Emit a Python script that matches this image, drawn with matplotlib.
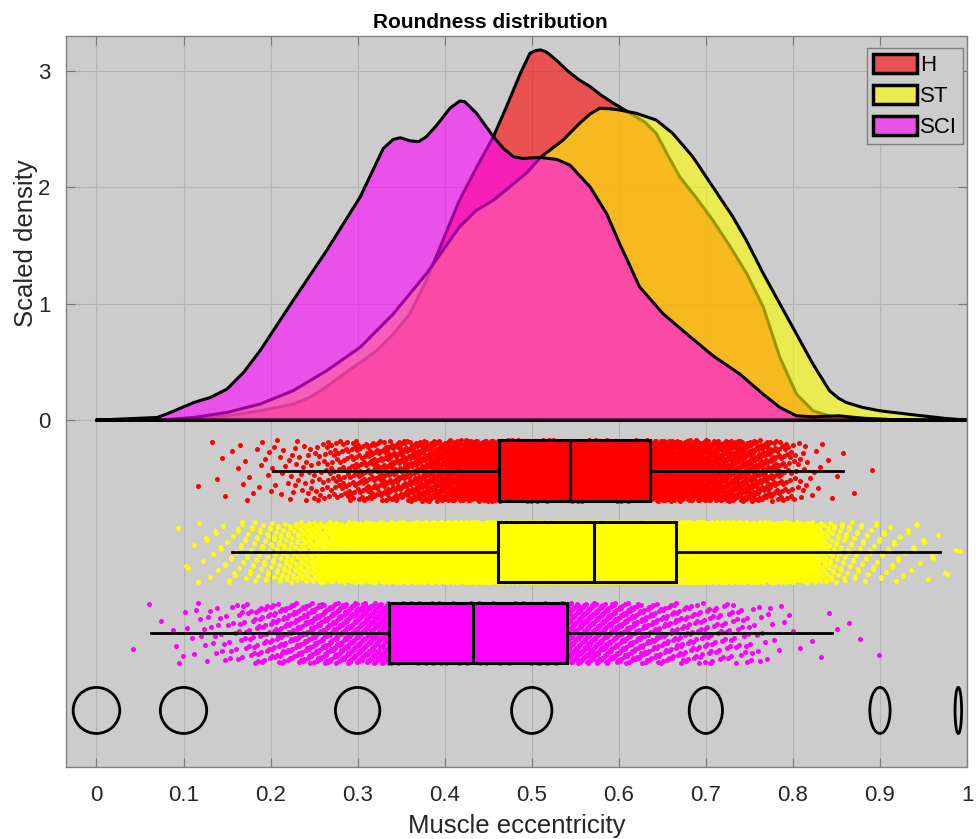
import numpy as np
import matplotlib
matplotlib.use("Agg")
import matplotlib.pyplot as plt
from matplotlib.patches import Ellipse, Patch

plt.rcParams['font.family'] = ['Liberation Sans', 'DejaVu Sans']

# ---------------- data ----------------
groups = ["H", "ST", "SCI"]
fill_colors = [(1.0, 0.0, 0.0), (1.0, 1.0, 0.0), (1.0, 0.0, 1.0)]

# scaled density curves
H_x = [0.0, 0.07, 0.112, 0.150, 0.188, 0.226, 0.245, 0.265, 0.284, 0.303, 0.322, 0.341,
       0.360, 0.379, 0.398, 0.417, 0.437, 0.456, 0.471, 0.487, 0.498, 0.505, 0.510, 0.516,
       0.521, 0.530, 0.540, 0.553, 0.567, 0.580, 0.594, 0.613, 0.630, 0.643, 0.656, 0.670,
       0.690, 0.708, 0.728, 0.747, 0.766, 0.785, 0.804, 0.823, 0.842, 0.861, 0.900, 1.0]
H_y = [0.0, 0.0, 0.011, 0.037, 0.080, 0.138, 0.195, 0.290, 0.396, 0.495, 0.597, 0.740,
       0.913, 1.20, 1.545, 1.889, 2.176, 2.435, 2.693, 2.98, 3.152, 3.175, 3.181, 3.165,
       3.138, 3.080, 3.009, 2.930, 2.865, 2.790, 2.722, 2.636, 2.560, 2.463, 2.280, 2.09,
       1.900, 1.717, 1.490, 1.258, 0.970, 0.54, 0.224, 0.080, 0.035, 0.014, 0.0, 0.0]

ST_x = [0.0, 0.073, 0.112, 0.150, 0.188, 0.226, 0.2645, 0.303, 0.341, 0.379, 0.417, 0.4365,
        0.456, 0.479, 0.495, 0.510, 0.536, 0.555, 0.567, 0.578, 0.590, 0.601, 0.620, 0.643,
        0.662, 0.685, 0.708, 0.731, 0.7465, 0.766, 0.785, 0.804, 0.823, 0.842, 0.852, 0.861,
        0.880, 0.900, 0.938, 0.976, 1.0]
ST_y = [0.0, 0.0, 0.023, 0.066, 0.138, 0.253, 0.425, 0.626, 0.913, 1.258, 1.66, 1.803,
        1.889, 2.03, 2.130, 2.257, 2.406, 2.55, 2.630, 2.679, 2.675, 2.664, 2.636, 2.578,
        2.463, 2.262, 2.004, 1.746, 1.545, 1.258, 0.999, 0.741, 0.482, 0.253, 0.190, 0.152,
        0.109, 0.080, 0.046, 0.014, 0.0]

SCI_x = [0.0, 0.07, 0.085, 0.112, 0.131, 0.150, 0.169, 0.188, 0.226, 0.2645,
         0.303, 0.3295, 0.341, 0.349, 0.360, 0.370, 0.379, 0.391, 0.406, 0.4174,
         0.423, 0.4365, 0.456, 0.4675, 0.479, 0.490, 0.5096, 0.5287, 0.544, 0.567,
         0.586, 0.601, 0.624, 0.651, 0.678, 0.708, 0.739, 0.7656, 0.785, 0.804,
         0.823, 0.853, 0.880, 0.918, 0.9375, 1.0]
SCI_y = [0.0, 0.023, 0.066, 0.152, 0.195, 0.267, 0.41, 0.597, 1.028, 1.458,
         1.918, 2.334, 2.412, 2.426, 2.40, 2.392, 2.435, 2.535, 2.679, 2.742,
         2.736, 2.636, 2.435, 2.334, 2.262, 2.248, 2.257, 2.24, 2.19, 2.004,
         1.774, 1.516, 1.143, 0.913, 0.741, 0.554, 0.396, 0.224, 0.109, 0.037,
         0.029, 0.037, 0.017, 0.003, 0.0, 0.0]

# box-plot statistics
box_whislo = [0.203, 0.156, 0.0626]
box_q1 = [0.462, 0.461, 0.336]
box_med = [0.544, 0.572, 0.433]
box_q3 = [0.636, 0.666, 0.541]
box_whishi = [0.857, 0.969, 0.845]

# number of raw observations drawn as rain drops
n_points = [5000, 10000, 2600]

# reference ellipses of given eccentricity
ecc_values = [0.0, 0.1, 0.3, 0.5, 0.7, 0.9, 0.99]

x_ticks = [0, 0.1, 0.2, 0.3, 0.4, 0.5, 0.6, 0.7, 0.8, 0.9, 1]
x_tick_labels = ["0", "0.1", "0.2", "0.3", "0.4", "0.5", "0.6", "0.7", "0.8", "0.9", "1"]
y_ticks = [0, 1, 2, 3]

dens_x = [H_x, ST_x, SCI_x]
dens_y = [H_y, ST_y, SCI_y]

# ---------------- layout ----------------
box_centers = [-0.433, -1.134, -1.83]
box_height = 0.52
ellipse_y = -2.494
ellipse_h = 0.3955
ellipse_w0 = 0.0535
alpha_fill = 0.6

fig = plt.figure(figsize=(9.76, 8.39), dpi=100)
ax = fig.add_axes([0.0676, 0.0858, 0.9232, 0.8713])
ax.set_facecolor('#cccccc')
ax.set_xlim(-0.035, 1.0)
ax.set_ylim(-2.98, 3.3)

# grid
ax.set_axisbelow(True)
ax.grid(True, color='#b3b3b3', linewidth=0.8)

# density clouds
for xs, ys, c in zip(dens_x, dens_y, fill_colors):
    ax.fill(xs, ys, facecolor=(*c, alpha_fill), edgecolor='black', linewidth=2.2, zorder=2,
            joinstyle='round')

# rain drops (deterministic quantile sampling of each density, quasi-uniform jitter)
g = 1.32471795724474602596
a1, a2 = 1.0 / g, 1.0 / g ** 2
grid_x = np.linspace(0, 1, 4001)
for k in range(3):
    d = np.interp(grid_x, dens_x[k], dens_y[k])
    cdf = np.cumsum(d)
    cdf = cdf / cdf[-1]
    i = np.arange(n_points[k])
    u = (0.5 + a1 * i) % 1.0
    v = (0.5 + a2 * i) % 1.0
    xp = np.interp(u, cdf, grid_x)
    yp = box_centers[k] + (v - 0.5) * box_height
    ax.scatter(xp, yp, s=13, color=fill_colors[k], linewidths=0, zorder=3)

# boxes
stats = []
for k in range(3):
    stats.append(dict(whislo=box_whislo[k], q1=box_q1[k], med=box_med[k],
                      q3=box_q3[k], whishi=box_whishi[k], fliers=[]))
bp = ax.bxp(stats, positions=box_centers, widths=box_height, orientation='horizontal',
            patch_artist=True, showcaps=False, showfliers=False, manage_ticks=False,
            boxprops=dict(linewidth=2.2, edgecolor='black'),
            medianprops=dict(color='black', linewidth=2.2),
            whiskerprops=dict(color='black', linewidth=2.0))
for patch, c in zip(bp['boxes'], fill_colors):
    patch.set_facecolor(c)
    patch.set_zorder(4)
for key in ('medians', 'whiskers'):
    for ln in bp[key]:
        ln.set_zorder(5)

# eccentricity ellipses
for e in ecc_values:
    ax.add_patch(Ellipse((e, ellipse_y), width=ellipse_w0 * np.sqrt(1 - e ** 2),
                         height=ellipse_h, facecolor='none', edgecolor='black',
                         linewidth=2.0, zorder=5))

# axes styling
ax.set_xticks(x_ticks)
ax.set_xticklabels(x_tick_labels)
ax.set_yticks(y_ticks)
ax.tick_params(axis='both', direction='in', length=6.5, width=0.8, color='#777777',
               labelsize=16, labelcolor='#262626', top=True, right=True)
ax.tick_params(axis='x', pad=13)
ax.tick_params(axis='y', pad=11)
for sp in ax.spines.values():
    sp.set_color('#808080')
    sp.set_linewidth(1.0)

ax.set_title("Roundness distribution", fontsize=15, fontweight='bold', pad=6, x=0.4706)
ax.set_xlabel("Muscle eccentricity", fontsize=18.5, color='#262626')
ax.set_ylabel("Scaled density", fontsize=18.5, color='#262626')
ax.xaxis.set_label_coords(0.5, -0.064)
ax.yaxis.set_label_coords(-0.031, 0.717)

handles = [Patch(facecolor=(*c, alpha_fill), edgecolor='black', linewidth=2.5)
           for c in fill_colors]
leg = ax.legend(handles, groups, loc='upper right', bbox_to_anchor=(1 - 4 / 901, 1 - 12 / 731),
                borderaxespad=0, fontsize=16, handlelength=2.0, handleheight=1.0,
                handletextpad=0.15, labelspacing=0.38, borderpad=0.25, fancybox=False,
                framealpha=1.0)
leg.get_frame().set_facecolor('#cccccc')
leg.get_frame().set_edgecolor('#808080')
leg.get_frame().set_linewidth(1.0)

fig.savefig("out.png", dpi=100)
